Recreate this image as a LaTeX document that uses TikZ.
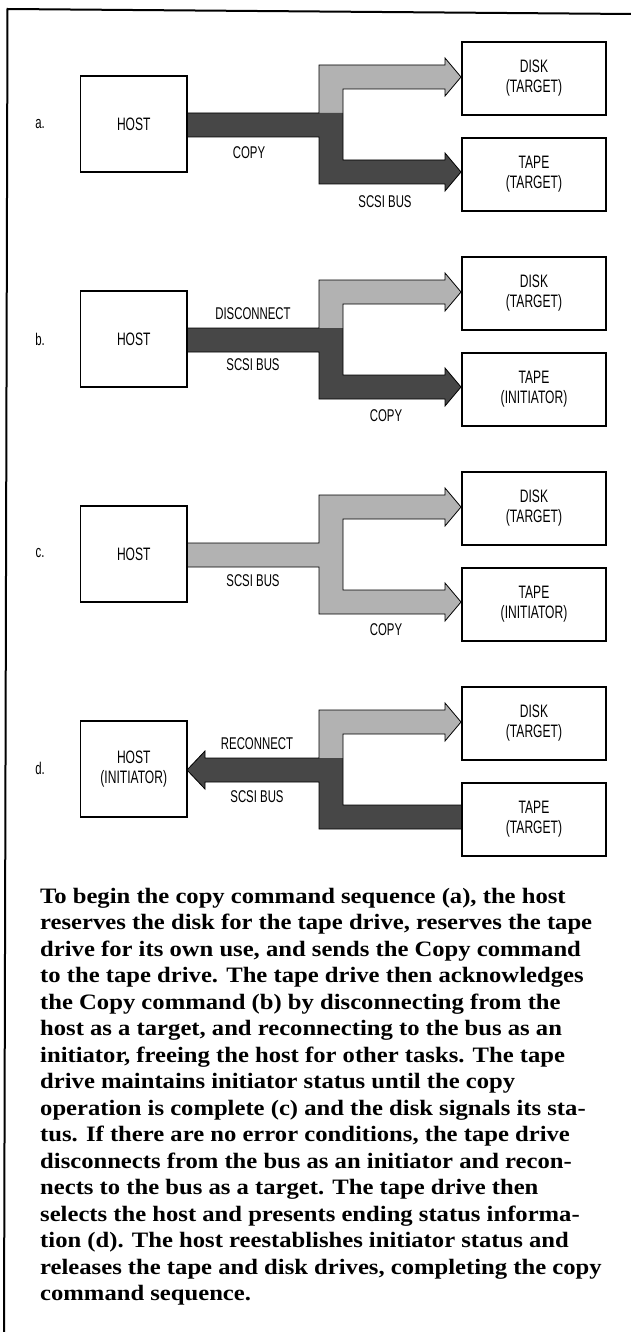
\documentclass[tikz,border=0pt]{standalone}
\usepackage{fontspec}
\setmainfont{Liberation Serif}
\newfontfamily\labfont[FakeStretch=0.67]{Liberation Sans}
\newfontfamily\capfont[FakeStretch=1.12]{Liberation Serif}
\newcommand\upperlite{\fill[lite] (319,65) -- (445,65) -- (445,58) -- (461,77) -- (445,96) -- (445,89) -- (343,89) -- (343,113) -- (319,113) -- cycle;}
\newcommand\outlineright{\draw[busline] (187,113) -- (319,113) -- (319,65) -- (445,65) -- (445,58) -- (461,77) -- (445,96) -- (445,89) -- (343,89) -- (343,160) -- (445,160) -- (445,153) -- (461,172) -- (445,191) -- (445,184) -- (319,184) -- (319,137) -- (187,137);}
\newcommand\darkright{\fill[dark] (187,113) -- (343,113) -- (343,160) -- (445,160) -- (445,153) -- (461,172) -- (445,191) -- (445,184) -- (319,184) -- (319,137) -- (187,137) -- cycle;}
\begin{document}
\begin{tikzpicture}[x=1pt,y=-1pt,
  box/.style={draw,line width=1.5pt,inner sep=0pt,align=center,font=\labfont\fontsize{18}{20}\selectfont},
  hostbox/.style={box,minimum width=106.5pt,minimum height=96pt},
  devbox/.style={box,minimum width=144pt,minimum height=73pt},
  lab/.style={inner sep=0pt,font=\labfont\fontsize{17}{20}\selectfont},
  lite/.style={fill=black!30},
  dark/.style={fill=black!72},
  busline/.style={draw=black,line width=0.8pt,line join=miter}]
\useasboundingbox (0,0) rectangle (631,1332);
\draw[line width=2pt] (4,1332) -- (7.5,9) -- (631,14);
% ---------- panel a
\begin{scope}[shift={(0,0)}]
  \upperlite \darkright \outlineright
  \node[lab] (la) at (40,124) {a.};
  \node[hostbox] (hostA) at (133.75,124) {HOST};
  \node[devbox] (diskA) at (534,78.5) {DISK\\(TARGET)};
  \node[devbox] (tapeA) at (534,174.5) {TAPE\\(TARGET)};
  \node[lab] (copyA) at (249,153) {COPY};
  \node[lab] (busA) at (385,202) {SCSI BUS};
\end{scope}
% ---------- panel b
\begin{scope}[shift={(0,215)}]
  \upperlite \darkright \outlineright
  \node[lab] (lb) at (40,124) {b.};
  \node[hostbox] (hostB) at (133.75,124) {HOST};
  \node[devbox] (diskB) at (534,78.5) {DISK\\(TARGET)};
  \node[devbox] (tapeB) at (534,174.5) {TAPE\\(INITIATOR)};
  \node[lab] (discB) at (253,99) {DISCONNECT};
  \node[lab] (busB) at (253,150) {SCSI BUS};
  \node[lab] (copyB) at (386,201) {COPY};
\end{scope}
% ---------- panel c
\begin{scope}[shift={(0,430)}]
  \fill[lite] (187,113) -- (319,113) -- (319,65) -- (445,65) -- (445,58) -- (461,77) -- (445,96) -- (445,89) -- (343,89) -- (343,160) -- (445,160) -- (445,153) -- (461,172) -- (445,191) -- (445,184) -- (319,184) -- (319,137) -- (187,137) -- cycle;
  \outlineright
  \node[lab] (lc) at (40,123) {c.};
  \node[hostbox] (hostC) at (133.75,124) {HOST};
  \node[devbox] (diskC) at (534,78.5) {DISK\\(TARGET)};
  \node[devbox] (tapeC) at (534,174.5) {TAPE\\(INITIATOR)};
  \node[lab] (busC) at (253,151) {SCSI BUS};
  \node[lab] (copyC) at (386,200) {COPY};
\end{scope}
% ---------- panel d
\begin{scope}[shift={(0,645)}]
  \upperlite
  \fill[dark] (187,125) -- (205,106) -- (205,113) -- (343,113) -- (343,160) -- (462,160) -- (462,184) -- (319,184) -- (319,137) -- (205,137) -- (205,144) -- cycle;
  \draw[busline] (462,160) -- (343,160) -- (343,89) -- (445,89) -- (445,96) -- (461,77) -- (445,58) -- (445,65) -- (319,65) -- (319,113) -- (205,113) -- (205,106) -- (187,125) -- (205,144) -- (205,137) -- (319,137) -- (319,184) -- (462,184);
  \node[lab] (ld) at (40,123) {d.};
  \node[hostbox] (hostD) at (133.75,124) {HOST\\(INITIATOR)};
  \node[devbox] (diskD) at (534,78.5) {DISK\\(TARGET)};
  \node[devbox] (tapeD) at (534,174.5) {TAPE\\(TARGET)};
  \node[lab] (recD) at (257,99) {RECONNECT};
  \node[lab] (busD) at (257,152) {SCSI BUS};
\end{scope}
% ---------- caption
\node[anchor=north west,inner sep=0pt,align=left,font=\capfont\bfseries\fontsize{22}{26.5}\selectfont] (cap) at (40,888) {%
To begin the copy command sequence (a), the host\\
reserves the disk for the tape drive, reserves the tape\\
drive for its own use, and sends the Copy command\\
to the tape drive. The tape drive then acknowledges\\
the Copy command (b) by disconnecting from the\\
host as a target, and reconnecting to the bus as an\\
initiator, freeing the host for other tasks. The tape\\
drive maintains initiator status until the copy\\
operation is complete (c) and the disk signals its sta-\\
tus. If there are no error conditions, the tape drive\\
disconnects from the bus as an initiator and recon-\\
nects to the bus as a target. The tape drive then\\
selects the host and presents ending status informa-\\
tion (d). The host reestablishes initiator status and\\
releases the tape and disk drives, completing the copy\\
command sequence.};
\end{tikzpicture}
\end{document}
